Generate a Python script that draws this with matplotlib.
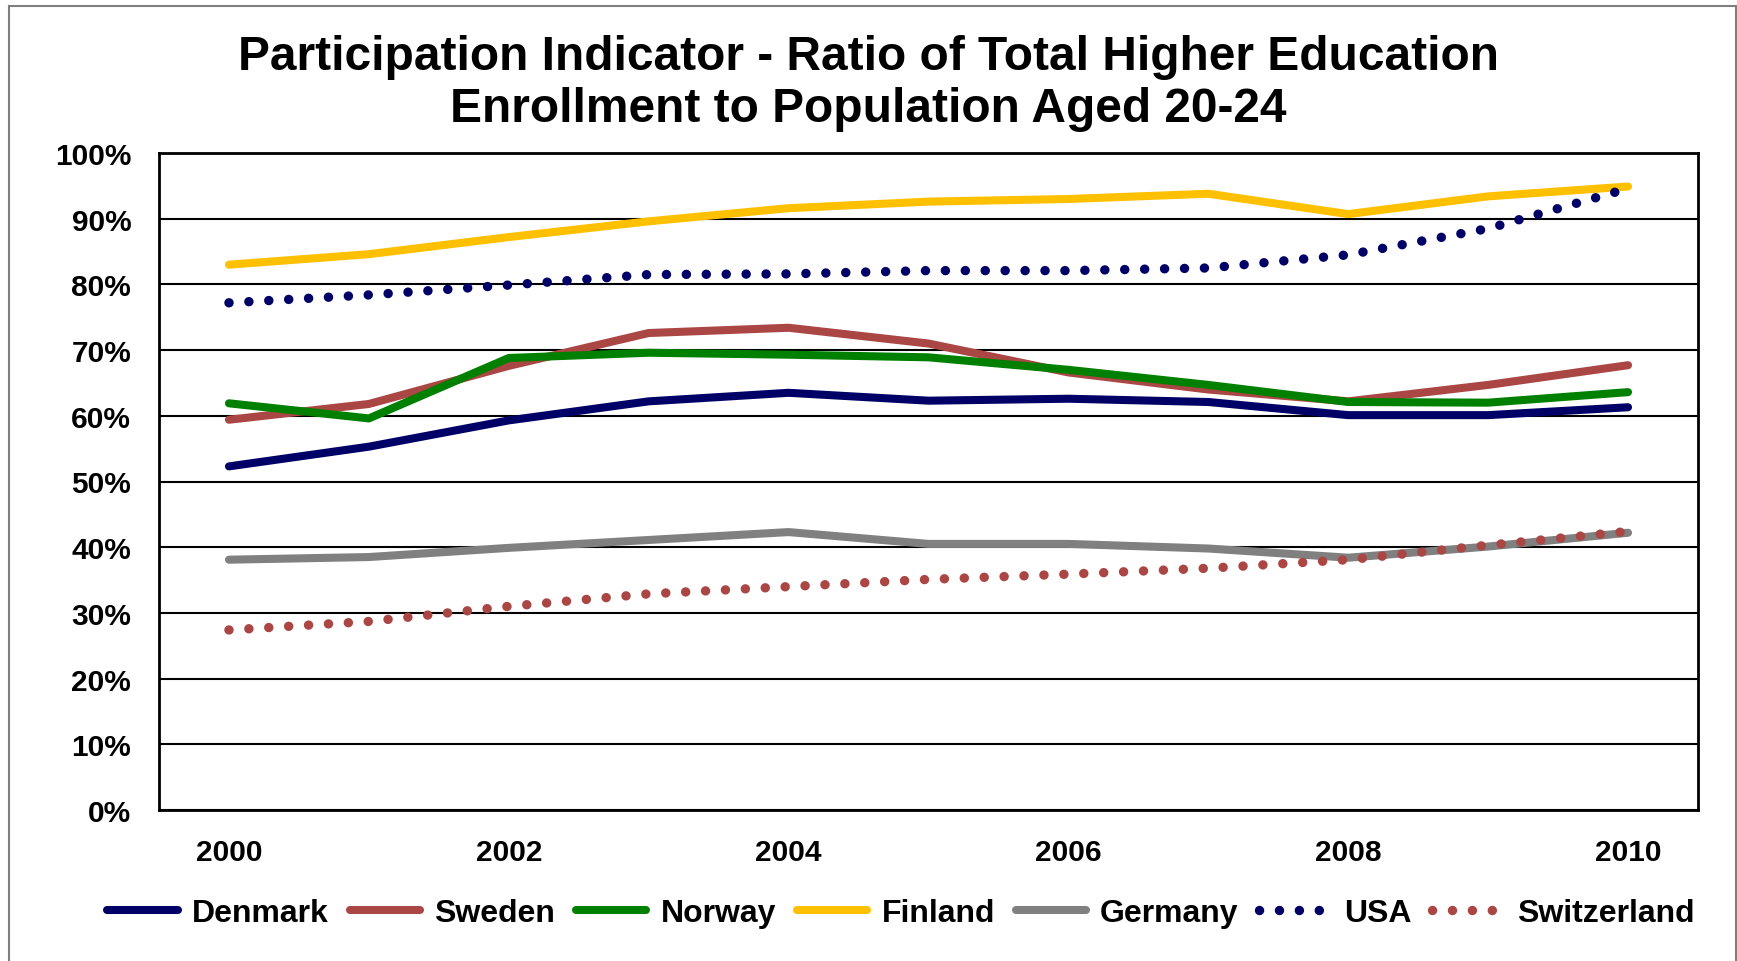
import matplotlib
matplotlib.use("Agg")
import matplotlib.pyplot as plt
from matplotlib.patches import Rectangle

years = ["2000", "2001", "2002", "2003", "2004", "2005", "2006", "2007", "2008", "2009", "2010"]
tick_labels = ["2000", "", "2002", "", "2004", "", "2006", "", "2008", "", "2010"]

denmark = [52.3, 55.3, 59.3, 62.2, 63.5, 62.3, 62.6, 62.1, 60.1, 60.1, 61.3]
sweden = [59.4, 61.8, 67.6, 72.6, 73.4, 71.0, 66.6, 64.0, 62.2, 64.7, 67.7]
norway = [61.9, 59.6, 68.8, 69.6, 69.3, 68.9, 67.0, 64.7, 62.1, 62.0, 63.6]
finland = [83.0, 84.6, 87.2, 89.6, 91.6, 92.6, 93.0, 93.8, 90.7, 93.4, 94.9]
germany = [38.1, 38.5, 39.9, 41.1, 42.3, 40.5, 40.5, 39.8, 38.4, 40.1, 42.2]
usa = [77.2, 78.4, 79.9, 81.5, 81.6, 82.1, 82.1, 82.5, 84.5, 88.5, 94.6]
switzerland = [27.4, 28.7, 31.0, 32.9, 34.0, 35.1, 35.9, 36.8, 38.1, 40.3, 42.4]

series = [
    ("Denmark", denmark, "#000066", "solid"),
    ("Sweden", sweden, "#AA4643", "solid"),
    ("Norway", norway, "#008000", "solid"),
    ("Finland", finland, "#FFC000", "solid"),
    ("Germany", germany, "#808080", "solid"),
    ("USA", usa, "#000066", "dot"),
    ("Switzerland", switzerland, "#AA4643", "dot"),
]

plt.rcParams['font.family'] = ['Liberation Sans', 'DejaVu Sans']
plt.rcParams['font.weight'] = 'bold'

W, H = 1737, 962
fig = plt.figure(figsize=(W / 100, H / 100), dpi=100)
ax = fig.add_axes([159 / W, 1 - 811 / H, (1698 - 159) / W, (811 - 154) / H])

x = list(range(len(years)))
for name, vals, color, style in series:
    if style == "solid":
        ax.plot(x, vals, color=color, lw=5.8, solid_capstyle='round',
                solid_joinstyle='round', label=name, zorder=3)
    else:
        ax.plot(x, vals, color=color, lw=6.8, linestyle=(0, (0.01, 2.1)),
                dash_capstyle='round', label=name, zorder=3)

ax.set_xlim(-0.5, len(years) - 0.5)
ax.set_ylim(0, 100)
ax.set_yticks(range(0, 101, 10))
ax.set_yticklabels([f"{v}%" for v in range(0, 101, 10)])
ax.set_xticks(x)
ax.set_xticklabels(tick_labels)
ax.tick_params(axis='both', length=0, labelsize=21.5)
ax.tick_params(axis='y', pad=20)
ax.tick_params(axis='x', pad=20)
for lab in ax.get_xticklabels() + ax.get_yticklabels():
    lab.set_fontweight('bold')
ax.grid(axis='y', color='black', lw=1.5, zorder=1)
ax.set_axisbelow(True)
for sp in ax.spines.values():
    sp.set_linewidth(2)
    sp.set_color('black')

fig.text(0.5, 1 - 84 / H,
         "Participation Indicator - Ratio of Total Higher Education\nEnrollment to Population Aged 20-24",
         ha='center', va='center', fontsize=34.5, fontweight='bold', linespacing=1.2)

leg = fig.legend(loc='center', bbox_to_anchor=(901 / W, 1 - 914 / H), ncol=7,
                 frameon=False, prop={'size': 23, 'weight': 'bold'},
                 handlelength=2.2, handletextpad=0.45, columnspacing=0.65)

fig.patches.append(Rectangle((9 / W, -0.05), (1735.5 - 9) / W, 1.05 - 6.5 / H,
                             transform=fig.transFigure, fill=False,
                             edgecolor='#7f7f7f', lw=1.5))

fig.savefig("out.png", dpi=100)
